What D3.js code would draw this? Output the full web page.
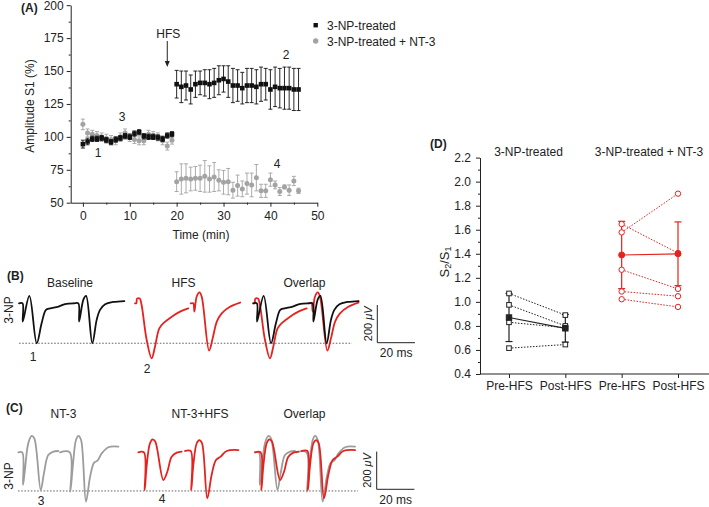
<!DOCTYPE html>
<html>
<head>
<meta charset="utf-8">
<script src="https://cdn.jsdelivr.net/npm/d3@7"></script>
<style>
  body { margin: 0; background: #fff; }
  text { font-family: "Liberation Sans", Arial, sans-serif; font-size: 12px; fill: #222; }
</style>
</head>
<body>
<svg id="fig" width="709" height="507"></svg>
<script>
// ---------- Panel A data ----------
const timeMin = [0,1,2,3,4,5,6,7,8,9,10,11,12,13,14,15,16,17,18,19,
                 20,21,22,23,24,25,26,27,28,29,30,31,32,33,34,35,36,37,38,39,40,41,42,43,44,45,46];
const npValues = [94.5,96.5,98.5,98.5,99,97.5,96,98,99,100.5,100,102.5,103.5,100.5,100,100,99.5,98.5,101,102,
                  140,138,139,136,140,141,141,140,141,143,144,142,139,139,137,139,139,138,140,140,136,138,137,137,137,136,136];
const npErrors = [3,2.5,2,2,2,2,2,2,2,2,2,2,2,2,2,2,2,2,2,2,
                  10.5,12,11,11,10,9,10,11,11,11,10,12,13,12,12,13,13,13,13,12,15,15,15,16,16,16,16];
const nt3Values = [109.5,103,102,101,100,99,98,97,100,103,99.5,98,97,97,102,101,100,97,93,97.5,
                   66,68,68.5,68,68.5,68.5,70,68,69.5,67,65.5,66,59.5,63,60.5,64.5,63.5,69,59,59,67.5,63.5,58.5,62,59.5,66.5,59];
const nt3Errors = [4,3,3,3,3,3,3,3,3,3,3,3,3,3,3,3,3,3,3,3,
                   7.5,11.5,11,9,9,10,12,10,11,8,9,10,6,8,6,8,9,10,5,5,5,3,3,1.5,4,3.5,2];
const timeTicks = [0,10,20,30,40,50];
const timeMinor = [5,15,25,35,45];
const ampTicks = [50,75,100,125,150,175,200];
const ampMinor = [62.5,87.5,112.5,137.5,162.5,187.5];
const hfsTime = 18;

// ---------- Panels B / C traces: [time ms, amplitude µV] ----------
const baseS1 = [[0,0],[1.9,0],[2.0,-97],[5.5,39],[9.4,-212],[12.0,-106],[14.3,-35],[16.5,-27],[20.9,-18],[24.4,-4],[28.9,0]];
const baseS2 = [[29.2,0],[31.5,0],[31.9,-97],[34.2,21],[35.6,39],[38.9,-212],[41.2,-88],[43.0,-35],[45.7,-5],[50.1,7],[55.9,12]];
const hfsS1 = [[0,0],[0.7,0],[1.1,25],[2.5,25],[3.5,-9],[6.2,-195],[8.85,-292],[10.6,-230],[12.9,-133],[15.4,-103],[19.5,-71],[23.9,-44],[28.3,-27]];
const hfsS2 = [[29.5,0],[30.9,0],[31.5,-44],[32.7,35],[34.2,58],[35.4,35],[39.3,-251],[41.2,-186],[43.4,-97],[46.0,-53],[50.4,-18],[55.8,4]];
const nt3S1 = [[0,0],[2.1,0],[2.5,-173],[3.5,-94],[5.3,48],[7.1,87],[8.5,74],[11.9,-200],[13.6,-112],[15.9,-14],[18.6,4],[21.2,7]];
const nt3S2 = [[22.1,0],[27.3,0],[27.6,-209],[28.9,-76],[30.6,65],[31.9,87],[33.3,65],[35.9,-262],[38.1,-129],[40.2,-55],[42.0,-44],[44.3,-5],[47.8,27],[53.1,30]];
const ntHfsS1 = [[0,0],[3.0,0],[3.4,-200],[4.4,-76],[6.2,48],[7.6,69],[9.0,57],[13.3,-147],[15.4,-103],[17.7,-23],[20.4,-2],[23.0,4]];
const ntHfsS2 = [[24.8,7],[27.8,7],[28.1,-200],[29.2,-67],[31.0,48],[32.4,65],[33.8,48],[36.6,-244],[38.9,-120],[41.2,-41],[43.7,-23],[46.9,7],[53.1,12]];
const refLevelB = -212;
const refLevelC = -205;

// ---------- Panel D data ----------
const groups = ['npPre','npPost','ntPre','ntPost'];
const groupLabels = ['Pre-HFS','Post-HFS','Pre-HFS','Post-HFS'];
const npPre = [1.07,0.975,0.83,0.615];
const npPost = [0.89,0.80,0.785,0.645];
const npMean = [0.87,0.78];
const npSem = [0.20,0.115];
const ntPre = [1.578,1.647,1.267,1.086,1.022];
const ntPost = [1.90,1.406,1.108,1.047,0.958];
const ntMean = [1.39,1.40];
const ntSem = [0.28,0.265];
const ratioTicks = [0.4,0.6,0.8,1.0,1.2,1.4,1.6,1.8,2.0,2.2];
const ratioMinor = [0.5,0.7,0.9,1.1,1.3,1.5,1.7,1.9,2.1];

const black = '#111', red = '#e4231f', grey = '#9c9c9c', greyDot = '#a3a3a3';

const svg = d3.select('#fig');
svg.append('rect').attr('width', 709).attr('height', 507).attr('fill', '#fff');

// ================= Panel A =================
const ax = d3.scaleLinear().domain([-2.6, 50]).range([70.7, 317.3]);
const ay = d3.scaleLinear().domain([50, 200]).range([202.7, 5.2]);
const gA = svg.append('g').attr('color', '#222');

gA.append('g').attr('transform', 'translate(0,202.7)')
  .call(d3.axisBottom(ax).tickValues(timeTicks).tickSize(4).tickSizeOuter(0).tickPadding(5));
gA.append('g').attr('transform', 'translate(0,202.7)')
  .call(d3.axisBottom(ax).tickValues(timeMinor).tickSize(2).tickFormat(''))
  .call(g => g.select('.domain').remove());
gA.append('g').attr('transform', 'translate(70.7,0)')
  .call(d3.axisLeft(ay).tickValues(ampTicks).tickSize(4).tickSizeOuter(0).tickPadding(3));
gA.append('g').attr('transform', 'translate(70.7,0)')
  .call(d3.axisLeft(ay).tickValues(ampMinor).tickSize(2).tickFormat(''))
  .call(g => g.select('.domain').remove());

gA.append('text').attr('x', 21).attr('y', 11.5).attr('font-weight', 'bold').text('(A)');
gA.append('text').attr('transform', 'translate(30,106) rotate(-90)').attr('text-anchor', 'middle')
  .attr('dy', '0.35em').text('Amplitude S1  (%)');
gA.append('text').attr('x', 201).attr('y', 239).attr('text-anchor', 'middle').text('Time (min)');

function drawSeries(values, errors, color, shape) {
  const g = gA.append('g');
  values.forEach((v, i) => {
    const x = ax(timeMin[i]);
    g.append('line').attr('x1', x).attr('x2', x)
      .attr('y1', ay(v - errors[i])).attr('y2', ay(v + errors[i]))
      .attr('stroke', color).attr('stroke-width', 0.9);
    [v - errors[i], v + errors[i]].forEach(e => {
      g.append('line').attr('x1', x - 2).attr('x2', x + 2)
        .attr('y1', ay(e)).attr('y2', ay(e))
        .attr('stroke', color).attr('stroke-width', 0.9);
    });
  });
  values.forEach((v, i) => {
    const x = ax(timeMin[i]);
    if (shape === 'square') {
      g.append('rect').attr('x', x - 2.3).attr('y', ay(v) - 2.3)
        .attr('width', 4.6).attr('height', 4.6).attr('fill', color);
    } else {
      g.append('circle').attr('cx', x).attr('cy', ay(v)).attr('r', 2.5).attr('fill', color);
    }
  });
}
drawSeries(nt3Values, nt3Errors, greyDot, 'circle');
drawSeries(npValues, npErrors, black, 'square');

// HFS arrow
const arrowX = ax(hfsTime);
gA.append('text').attr('x', arrowX + 1).attr('y', 37.5).attr('text-anchor', 'middle').text('HFS');
gA.append('line').attr('x1', arrowX).attr('x2', arrowX).attr('y1', 41).attr('y2', 62)
  .attr('stroke', '#222').attr('stroke-width', 1);
gA.append('path').attr('d', `M${arrowX - 2.5},61 L${arrowX + 2.5},61 L${arrowX},67 Z`).attr('fill', '#222');

// trace markers
[['1', 98, 157], ['2', 286, 59], ['3', 122, 121], ['4', 277, 168]].forEach(d => {
  gA.append('text').attr('x', d[1]).attr('y', d[2]).attr('text-anchor', 'middle').text(d[0]);
});

// legend
const legend = gA.append('g');
legend.append('rect').attr('x', 313.5).attr('y', 23).attr('width', 4.4).attr('height', 4.4).attr('fill', black);
legend.append('text').attr('x', 327).attr('y', 29.5).text('3-NP-treated');
legend.append('circle').attr('cx', 315.7).attr('cy', 41).attr('r', 2.7).attr('fill', greyDot);
legend.append('text').attr('x', 327).attr('y', 45.5).text('3-NP-treated + NT-3');

// ================= Panels B / C =================
const traceX = d3.scaleLinear().domain([0, 20]).range([0, 37.7]);
const traceY = d3.scaleLinear().domain([0, 200]).range([0, -37.7]);
const traceLine = d3.line().x(d => traceX(d[0])).y(d => traceY(d[1]))
  .curve(d3.curveCatmullRom.alpha(0.5));

function drawSweeps(x0, y0, sweeps, color) {
  const g = svg.append('g').attr('transform', `translate(${x0},${y0})`);
  sweeps.forEach(s => {
    g.append('path').attr('d', traceLine(s)).attr('fill', 'none')
      .attr('stroke', color).attr('stroke-width', 1.8)
      .attr('stroke-linejoin', 'round').attr('stroke-linecap', 'round');
  });
}

function scaleBar(x0, yBottom, textY) {
  const g = svg.append('g');
  g.append('path')
    .attr('d', `M${x0},${yBottom + traceY(200)} L${x0},${yBottom} L${x0 + traceX(20)},${yBottom}`)
    .attr('fill', 'none').attr('stroke', '#222').attr('stroke-width', 1);
  const t = g.append('text').attr('transform', `translate(${x0 - 5.5},${yBottom + traceY(100)}) rotate(-90)`)
    .attr('text-anchor', 'middle').style('font-size', '11px');
  t.append('tspan').text('200 ');
  t.append('tspan').attr('font-style', 'italic').text('\u03bcV');
  g.append('text').attr('x', x0 + traceX(10)).attr('y', textY).attr('text-anchor', 'middle').text('20 ms');
}

// Panel B
const baseB = 303.3;
svg.append('line').attr('x1', 19).attr('x2', 352)
  .attr('y1', baseB + traceY(refLevelB)).attr('y2', baseB + traceY(refLevelB))
  .attr('stroke', '#444').attr('stroke-width', 0.8).attr('stroke-dasharray', '1.6,1.6');
drawSweeps(19, baseB, [baseS1, baseS2], black);
drawSweeps(135, baseB, [hfsS1, hfsS2], red);
drawSweeps(253.3, baseB, [hfsS1, hfsS2], red);
drawSweeps(253.3, baseB, [baseS1, baseS2], black);
svg.append('text').attr('x', 7).attr('y', 280).attr('font-weight', 'bold').text('(B)');
[['Baseline', 70], ['HFS', 183.5], ['Overlap', 304.5]].forEach(d => {
  svg.append('text').attr('x', d[1]).attr('y', 287).attr('text-anchor', 'middle').text(d[0]);
});
svg.append('text').attr('transform', 'translate(9,310) rotate(-90)').attr('text-anchor', 'middle')
  .attr('dy', '0.35em').text('3-NP');
svg.append('text').attr('x', 33).attr('y', 361).attr('text-anchor', 'middle').text('1');
svg.append('text').attr('x', 147).attr('y', 372.5).attr('text-anchor', 'middle').text('2');
scaleBar(377.3, 342.7, 357);

// Panel C
const baseC = 452.3;
svg.append('line').attr('x1', 18).attr('x2', 358)
  .attr('y1', baseC + traceY(refLevelC)).attr('y2', baseC + traceY(refLevelC))
  .attr('stroke', '#444').attr('stroke-width', 0.8).attr('stroke-dasharray', '1.6,1.6');
drawSweeps(18.3, baseC, [nt3S1, nt3S2], grey);
drawSweeps(138.3, baseC, [ntHfsS1, ntHfsS2], red);
drawSweeps(255, baseC, [nt3S1, nt3S2], grey);
drawSweeps(255, baseC, [ntHfsS1, ntHfsS2], red);
svg.append('text').attr('x', 6).attr('y', 412).attr('font-weight', 'bold').text('(C)');
[['NT-3', 63.5], ['NT-3+HFS', 200], ['Overlap', 304.5]].forEach(d => {
  svg.append('text').attr('x', d[1]).attr('y', 418).attr('text-anchor', 'middle').text(d[0]);
});
svg.append('text').attr('transform', 'translate(9,476) rotate(-90)').attr('text-anchor', 'middle')
  .attr('dy', '0.35em').text('3-NP');
svg.append('text').attr('x', 41).attr('y', 505).attr('text-anchor', 'middle').text('3');
svg.append('text').attr('x', 162).attr('y', 502.5).attr('text-anchor', 'middle').text('4');
scaleBar(376.7, 489.3, 503.5);

// ================= Panel D =================
const dx = d3.scalePoint().domain(groups).range([509, 678]);
const dy = d3.scaleLinear().domain([0.4, 2.2]).range([374, 157.6]);
const gD = svg.append('g').attr('color', '#222');

gD.append('g').attr('transform', 'translate(480,0)')
  .call(d3.axisLeft(dy).tickValues(ratioTicks).tickFormat(d3.format('.1f')).tickSize(4).tickSizeOuter(0).tickPadding(5));
gD.append('g').attr('transform', 'translate(480,0)')
  .call(d3.axisLeft(dy).tickValues(ratioMinor).tickSize(2).tickFormat(''))
  .call(g => g.select('.domain').remove());
gD.append('g').attr('transform', 'translate(0,374)')
  .call(d3.axisBottom(dx).tickSize(4).tickSizeOuter(0).tickPadding(3)
    .tickFormat((d, i) => groupLabels[i]))
  .call(g => g.select('.domain').remove());
gD.append('line').attr('x1', 480).attr('x2', 709).attr('y1', 374).attr('y2', 374)
  .attr('stroke', '#222').attr('stroke-width', 1);

gD.append('text').attr('x', 430).attr('y', 147.5).attr('font-weight', 'bold').text('(D)');
gD.append('text').attr('x', 528.5).attr('y', 156).attr('text-anchor', 'middle').text('3-NP-treated');
gD.append('text').attr('x', 649).attr('y', 156).attr('text-anchor', 'middle').text('3-NP-treated + NT-3');
const yl = gD.append('text').attr('transform', 'translate(444,262) rotate(-90)')
  .attr('text-anchor', 'middle').attr('dy', '0.35em').style('font-size', '13px');
yl.append('tspan').text('S');
yl.append('tspan').attr('dy', '2.5').style('font-size', '9px').text('2');
yl.append('tspan').attr('dy', '-2.5').text('/S');
yl.append('tspan').attr('dy', '2.5').style('font-size', '9px').text('1');

function drawGroup(pre, post, mean, sem, gPre, gPost, color, shape) {
  const g = gD.append('g');
  const x1 = dx(gPre), x2 = dx(gPost);
  pre.forEach((v, i) => {
    g.append('line').attr('x1', x1).attr('x2', x2).attr('y1', dy(v)).attr('y2', dy(post[i]))
      .attr('stroke', color).attr('stroke-width', 1).attr('stroke-dasharray', '1.5,1.5');
  });
  g.append('line').attr('x1', x1).attr('x2', x2).attr('y1', dy(mean[0])).attr('y2', dy(mean[1]))
    .attr('stroke', color).attr('stroke-width', 1.2);
  [x1, x2].forEach((x, k) => {
    g.append('line').attr('x1', x).attr('x2', x)
      .attr('y1', dy(mean[k] - sem[k])).attr('y2', dy(mean[k] + sem[k]))
      .attr('stroke', color).attr('stroke-width', 1.2);
    [mean[k] - sem[k], mean[k] + sem[k]].forEach(e => {
      g.append('line').attr('x1', x - 3.5).attr('x2', x + 3.5).attr('y1', dy(e)).attr('y2', dy(e))
        .attr('stroke', color).attr('stroke-width', 1.2);
    });
  });
  const marker = (x, v, filled) => {
    if (shape === 'square') {
      const s = filled ? 5.4 : 4.6;
      g.append('rect').attr('x', x - s / 2).attr('y', dy(v) - s / 2).attr('width', s).attr('height', s)
        .attr('fill', filled ? color : '#fff').attr('stroke', color).attr('stroke-width', 1);
    } else {
      g.append('circle').attr('cx', x).attr('cy', dy(v)).attr('r', filled ? 3 : 2.7)
        .attr('fill', filled ? color : '#fff').attr('stroke', color).attr('stroke-width', 1);
    }
  };
  pre.forEach(v => marker(x1, v, false));
  post.forEach(v => marker(x2, v, false));
  marker(x1, mean[0], true);
  marker(x2, mean[1], true);
}
drawGroup(npPre, npPost, npMean, npSem, 'npPre', 'npPost', '#222', 'square');
drawGroup(ntPre, ntPost, ntMean, ntSem, 'ntPre', 'ntPost', red, 'circle');
</script>
</body>
</html>
